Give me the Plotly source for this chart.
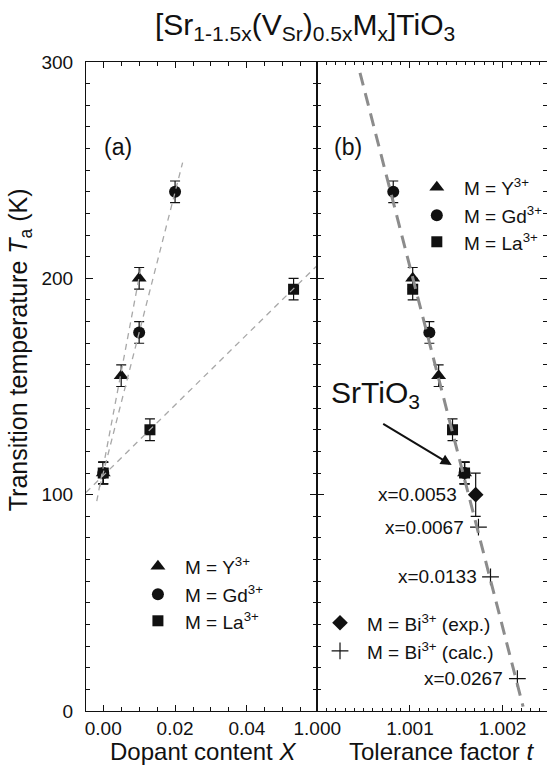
import plotly.graph_objects as go

# ---- Panel (a): transition temperature vs dopant content X ----
y_x = [0.0, 0.005, 0.010]
y_T = [110, 155, 200]
gd_x = [0.0, 0.010, 0.020]
gd_T = [110, 175, 240]
la_x = [0.0, 0.013, 0.053]
la_T = [110, 130, 195]
T_err = [5, 5, 5]

# ---- Panel (b): transition temperature vs tolerance factor t ----
y_t = [1.00159, 1.00131, 1.00103]
gd_t = [1.00159, 1.00121, 1.00082]
la_t = [1.00159, 1.00146, 1.00103]

bi_exp_t = [1.00171]
bi_exp_T = [100]
bi_exp_err = [10]
bi_exp_label = ["x=0.0053"]

bi_calc_t = [1.00174, 1.00187, 1.00216]
bi_calc_T = [85, 62, 15]
bi_calc_label = ["x=0.0067", "x=0.0133", "x=0.0267"]

# ---- dashed guide lines ----
fit_y_x, fit_y_T = [-0.0018, 0.0105], [97, 205]
fit_gd_x, fit_gd_T = [-0.0010, 0.0221], [103.5, 253.5]
fit_la_x, fit_la_T = [-0.0048, 0.0596], [101, 206]
fit_t, fit_t_T = [1.000461, 1.002222], [295, 2]

FONT = "Liberation Sans, Arial, Helvetica, sans-serif"
INK = "#111111"

fig = go.Figure()

def err(vals):
    return dict(type="data", array=vals, visible=True, color=INK, thickness=1.2, width=5)

series = [
    ("circle", 12, gd_x, gd_t, gd_T),
    ("square", 11, la_x, la_t, la_T),
    ("triangle-up", 13, y_x, y_t, y_T),
]
for sym, size, xs_a, xs_b, ts in series:
    fig.add_trace(go.Scatter(x=xs_a, y=ts, mode="markers", xaxis="x", yaxis="y",
                             marker=dict(symbol=sym, size=size, color=INK),
                             error_y=err(T_err), showlegend=False))
    fig.add_trace(go.Scatter(x=xs_b, y=ts, mode="markers", xaxis="x2", yaxis="y2",
                             marker=dict(symbol=sym, size=size, color=INK),
                             error_y=err(T_err), showlegend=False))

# Bi3+ experimental and calculated points
fig.add_trace(go.Scatter(x=bi_exp_t, y=bi_exp_T, mode="markers", xaxis="x2", yaxis="y2",
                         marker=dict(symbol="diamond", size=12, color=INK),
                         error_y=err(bi_exp_err), showlegend=False))
fig.add_trace(go.Scatter(x=bi_calc_t, y=bi_calc_T, mode="markers", xaxis="x2", yaxis="y2",
                         marker=dict(symbol="cross-thin", size=12, line=dict(color=INK, width=1.2)),
                         showlegend=False))

# guide lines drawn over the markers
for fx, fT in [(fit_y_x, fit_y_T), (fit_gd_x, fit_gd_T), (fit_la_x, fit_la_T)]:
    fig.add_trace(go.Scatter(x=fx, y=fT, mode="lines", xaxis="x", yaxis="y",
                             line=dict(color="#a8a8a8", width=1.3, dash="6px,5px"),
                             showlegend=False))
fig.add_trace(go.Scatter(x=fit_t, y=fit_t_T, mode="lines", xaxis="x2", yaxis="y2",
                         line=dict(color="#8c8c8c", width=3, dash="13px,8px"),
                         showlegend=False))

# ---- hand-placed legend keys (plot-area fractions) ----
legend_keys = [
    # symbol, size, x, y, label
    ("triangle-up", 13, 0.156, 0.223, "M = Y<sup>3+</sup>"),
    ("circle", 12, 0.156, 0.180, "M = Gd<sup>3+</sup>"),
    ("square", 11, 0.156, 0.139, "M = La<sup>3+</sup>"),
    ("triangle-up", 13, 0.761, 0.807, "M = Y<sup>3+</sup>"),
    ("circle", 12, 0.761, 0.764, "M = Gd<sup>3+</sup>"),
    ("square", 11, 0.761, 0.723, "M = La<sup>3+</sup>"),
    ("diamond", 12, 0.551, 0.136, "M = Bi<sup>3+</sup> (exp.)"),
    ("cross-thin", 12, 0.551, 0.0925, "M = Bi<sup>3+</sup> (calc.)"),
]
annotations = []
for sym, size, kx, ky, label in legend_keys:
    mk = dict(symbol=sym, size=size, color=INK)
    if sym == "cross-thin":
        mk = dict(symbol=sym, size=size, line=dict(color=INK, width=1.2))
    fig.add_trace(go.Scatter(x=[kx], y=[ky], mode="markers", xaxis="x3", yaxis="y3",
                             marker=mk, showlegend=False, hoverinfo="skip"))
    annotations.append(dict(x=kx + 0.055, y=ky, xref="paper", yref="paper", text=label,
                            showarrow=False, xanchor="left", yanchor="middle",
                            font=dict(family=FONT, size=19, color=INK)))

# composition labels next to the Bi3+ points
for t, T, lab in zip(bi_exp_t, bi_exp_T, bi_exp_label):
    annotations.append(dict(x=t, y=T, xref="x2", yref="y2", text=lab, showarrow=False,
                            xanchor="right", yanchor="middle", xshift=-17,
                            font=dict(family=FONT, size=19, color=INK)))
for t, T, lab in zip(bi_calc_t, bi_calc_T, bi_calc_label):
    annotations.append(dict(x=t, y=T, xref="x2", yref="y2", text=lab, showarrow=False,
                            xanchor="right", yanchor="middle", xshift=-12,
                            font=dict(family=FONT, size=19, color=INK)))

annotations += [
    dict(x=0.475, y=1.054, xref="paper", yref="paper", showarrow=False,
         text="[Sr<sub>1-1.5x</sub>(V<sub>Sr</sub>)<sub>0.5x</sub>M<sub>x</sub>]TiO<sub>3</sub>",
         xanchor="center", yanchor="middle", font=dict(family=FONT, size=30, color=INK)),
    dict(x=-0.143, y=0.556, xref="paper", yref="paper", showarrow=False, textangle=-90,
         text="Transition temperature <i>T</i><sub>a</sub> (K)",
         xanchor="center", yanchor="middle", font=dict(family=FONT, size=25, color=INK)),
    dict(x=0.2538, y=-0.062, xref="paper", yref="paper", showarrow=False,
         text="Dopant content <i>X</i>", xanchor="center", yanchor="middle",
         font=dict(family=FONT, size=24, color=INK)),
    dict(x=0.7722, y=-0.062, xref="paper", yref="paper", showarrow=False,
         text="Tolerance factor <i>t</i>", xanchor="center", yanchor="middle",
         font=dict(family=FONT, size=24, color=INK)),
    dict(x=0.034, y=0.869, xref="paper", yref="paper", showarrow=False, text="(a)",
         xanchor="left", yanchor="middle", font=dict(family=FONT, size=23, color=INK)),
    dict(x=0.533, y=0.869, xref="paper", yref="paper", showarrow=False, text="(b)",
         xanchor="left", yanchor="middle", font=dict(family=FONT, size=23, color=INK)),
    dict(x=0.528, y=0.487, xref="paper", yref="paper", showarrow=False,
         text="SrTiO<sub>3</sub>", xanchor="left", yanchor="middle",
         font=dict(family=FONT, size=30, color=INK)),
    dict(x=0.7933, y=0.379, xref="paper", yref="paper", text="", showarrow=True,
         ax=-70, ay=-42, arrowhead=2, arrowsize=1.1, arrowwidth=2, arrowcolor=INK,
         standoff=0),
]

tickfont = dict(family=FONT, size=19, color=INK)
common_y = dict(range=[0, 300], dtick=100, tick0=0, ticks="inside", ticklen=7,
                tickcolor=INK, minor=dict(dtick=10, ticks="inside", ticklen=4, tickcolor=INK),
                mirror="allticks", showline=True, linecolor=INK, linewidth=1,
                showgrid=False, zeroline=False, tickfont=tickfont)
split = 0.5017

fig.update_layout(
    width=547, height=765,
    margin=dict(l=86, r=0, t=62, b=54),
    paper_bgcolor="white", plot_bgcolor="rgba(0,0,0,0)",
    showlegend=False,
    xaxis=dict(domain=[0, split], range=[-0.0048, 0.0596], dtick=0.02, tick0=0,
               tickformat=".2f", ticks="inside", ticklen=6, tickcolor=INK,
               minor=dict(dtick=0.005, ticks="inside", ticklen=4, tickcolor=INK),
               mirror="allticks", showline=True, linecolor=INK, linewidth=1,
               showgrid=False, zeroline=False, tickfont=tickfont, anchor="y"),
    xaxis2=dict(domain=[split, 1], range=[0.9999999, 1.00248], dtick=0.001, tick0=1.0,
                tickformat=".3f", ticks="inside", ticklen=6, tickcolor=INK,
                minor=dict(dtick=0.0001, ticks="inside", ticklen=3, tickcolor=INK),
                mirror="allticks", showline=True, linecolor=INK, linewidth=1,
                showgrid=False, zeroline=False, tickfont=tickfont, anchor="y2"),
    yaxis=dict(domain=[0, 1], anchor="x", ticklabelstandoff=8, **common_y),
    yaxis2=dict(domain=[0, 1], anchor="x2", showticklabels=False, **common_y),
    xaxis3=dict(domain=[0, 1], range=[0, 1], visible=False, anchor="y3"),
    yaxis3=dict(domain=[0, 1], range=[0, 1], visible=False, anchor="x3"),
    annotations=annotations,
)

fig.write_html("out.html")
